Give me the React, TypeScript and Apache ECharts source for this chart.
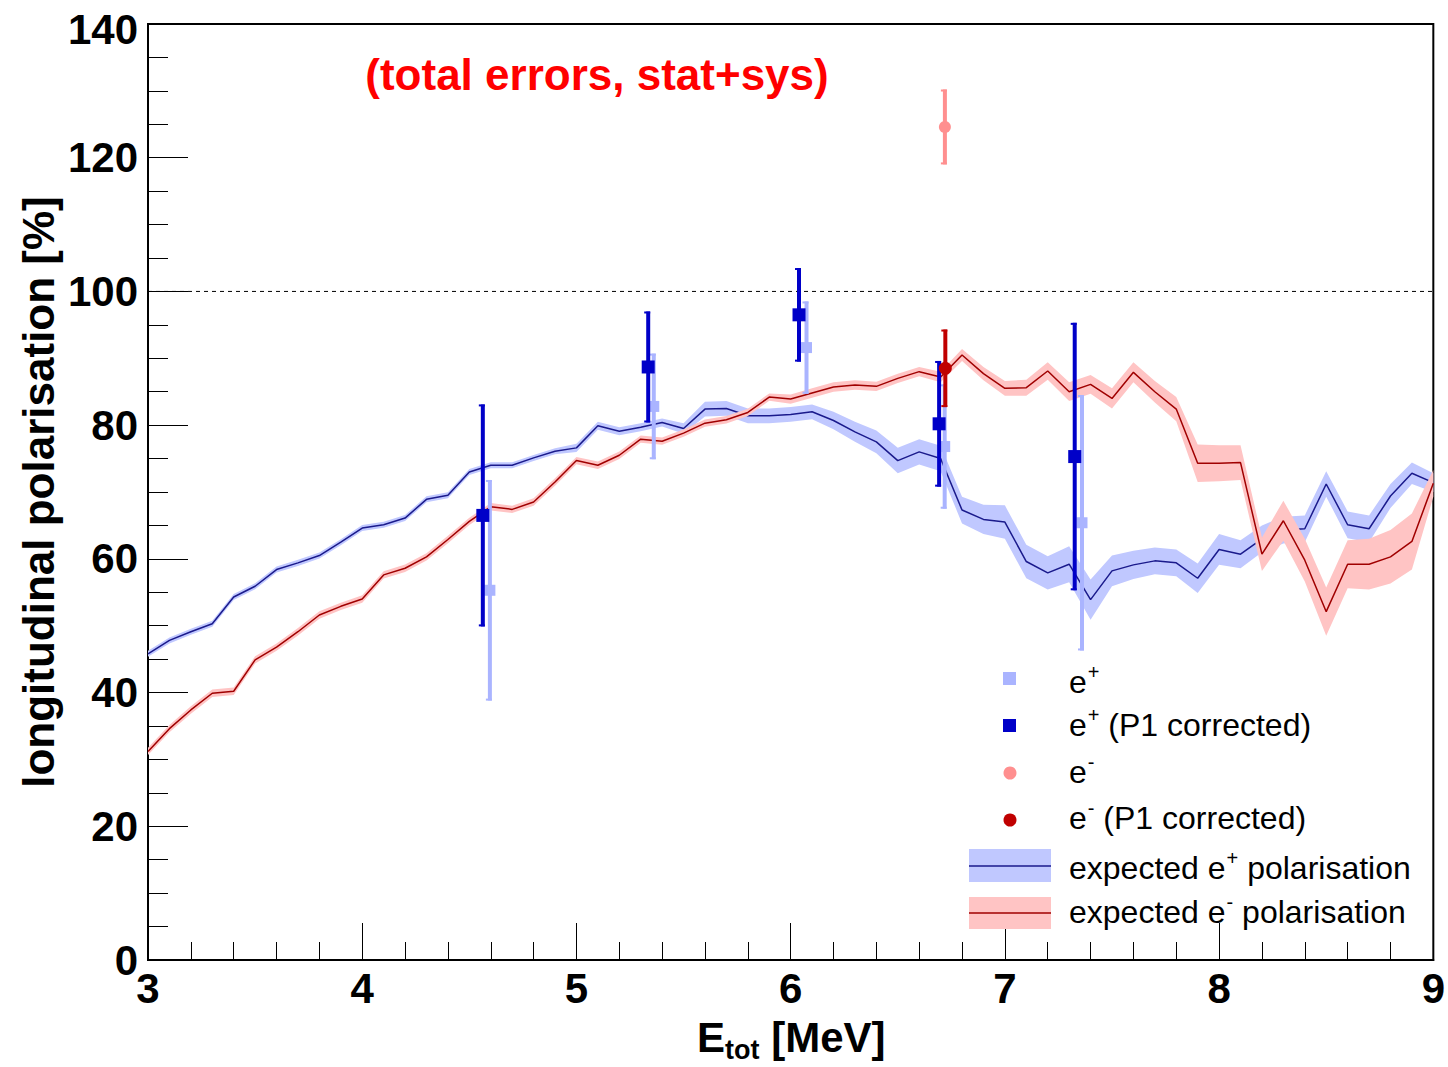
import React, { useEffect, useRef } from "react";
import * as echarts from "echarts";

// ---------- data ----------
const energies = [
  3.0, 3.1, 3.2, 3.3, 3.4, 3.5, 3.6, 3.7, 3.8, 3.9,
  4.0, 4.1, 4.2, 4.3, 4.4, 4.5, 4.6, 4.7, 4.8, 4.9,
  5.0, 5.1, 5.2, 5.3, 5.4, 5.5, 5.6, 5.7, 5.8, 5.9,
  6.0, 6.1, 6.2, 6.3, 6.4, 6.5, 6.6, 6.7, 6.8, 6.9,
  7.0, 7.1, 7.2, 7.3, 7.4, 7.5, 7.6, 7.7, 7.8, 7.9,
  8.0, 8.1, 8.2, 8.3, 8.4, 8.5, 8.6, 8.7, 8.8, 8.9, 9.0,
];

const expectedPos = [
  45.8, 47.8, 49.1, 50.3, 54.3, 55.9, 58.4, 59.4, 60.5, 62.5,
  64.6, 65.1, 66.1, 68.9, 69.5, 73.0, 74.0, 74.0, 75.1, 76.1,
  76.6, 79.9, 79.1, 79.7, 80.4, 79.5, 82.4, 82.5, 81.4, 81.4,
  81.6, 82.0, 80.7, 79.0, 77.5, 74.7, 76.0, 75.0, 67.3, 65.9,
  65.5, 59.6, 57.9, 59.2, 53.9, 58.2, 59.1, 59.7, 59.4, 57.1,
  61.4, 60.7, 63.0, 64.3, 64.5, 71.2, 65.1, 64.5, 69.4, 72.8, 71.4,
];
const expectedPosErr = [
  0.45, 0.45, 0.45, 0.45, 0.45, 0.45, 0.45, 0.45, 0.45, 0.45,
  0.45, 0.45, 0.45, 0.45, 0.45, 0.45, 0.45, 0.45, 0.45, 0.45,
  0.6, 0.6, 0.6, 0.6, 0.6, 0.8, 1.1, 1.1, 1.1, 1.1,
  1.1, 1.1, 1.3, 1.5, 1.7, 1.9, 1.9, 1.9, 2.0, 2.2,
  2.5, 2.5, 2.5, 2.7, 3.0, 2.3, 2.1, 2.0, 2.0, 2.2,
  2.3, 2.1, 2.0, 2.0, 2.0, 1.9, 2.0, 2.0, 1.8, 1.6, 1.4,
];

const expectedNeg = [
  31.2, 34.6, 37.4, 39.9, 40.2, 44.9, 46.8, 49.1, 51.6, 52.9,
  54.0, 57.6, 58.6, 60.3, 62.9, 65.6, 67.8, 67.4, 68.5, 71.5,
  74.7, 74.0, 75.5, 77.9, 77.6, 78.8, 80.3, 80.8, 81.9, 84.2,
  83.9, 84.8, 85.7, 86.0, 85.8, 87.0, 88.0, 87.2, 90.5, 87.7,
  85.5, 85.6, 88.1, 85.0, 86.1, 84.0, 87.9, 85.0, 82.4, 74.3,
  74.3, 74.4, 60.7, 65.7, 59.8, 52.1, 59.2, 59.2, 60.3, 62.6, 71.3,
];
const expectedNegErr = [
  0.55, 0.55, 0.55, 0.55, 0.55, 0.55, 0.55, 0.55, 0.55, 0.55,
  0.55, 0.55, 0.55, 0.55, 0.55, 0.55, 0.55, 0.55, 0.55, 0.55,
  0.55, 0.55, 0.55, 0.55, 0.55, 0.55, 0.55, 0.55, 0.55, 0.55,
  0.7, 0.7, 0.7, 0.7, 0.7, 0.7, 0.7, 0.8, 0.9, 1.0,
  1.1, 1.2, 1.3, 1.4, 1.4, 1.5, 1.5, 1.6, 1.8, 2.8,
  2.7, 2.6, 2.5, 3.0, 3.2, 3.6, 3.6, 3.8, 4.0, 4.2, 2.0,
];

const ePosE = [4.596, 5.361, 6.074, 6.719, 7.36];
const ePosVal = [55.3, 82.8, 91.6, 76.8, 65.4];
const ePosErr = [16.5, 7.9, 6.9, 9.3, 19.1];

const ePosCorrE = [4.563, 5.335, 6.039, 6.693, 7.326];
const ePosCorrVal = [66.5, 88.7, 96.5, 80.2, 75.3];
const ePosCorrErr = [16.6, 8.3, 7.0, 9.4, 20.0];

const eNegE = [6.72];
const eNegVal = [124.6];
const eNegErr = [5.6];

const eNegCorrE = [6.722];
const eNegCorrVal = [88.5];
const eNegCorrErr = [5.8];

const referenceX = [3, 9];
const referenceY = [100, 100];

const xRange = { min: 3, max: 9, interval: 1 };
const yRange = { min: 0, max: 140, interval: 20 };

const titleText = "(total errors, stat+sys)";
const yTitle = "longitudinal polarisation [%]";

// ---------- styling ----------
const FF = "'Liberation Sans', Arial, Helvetica, sans-serif";
const C = {
  bandPos: "#c0c8ff",
  linePos: "#1a1a8c",
  bandNeg: "#ffc4c4",
  lineNeg: "#a00000",
  ePos: "#aab4ff",
  ePosCorr: "#0000c8",
  eNeg: "#ff8f8f",
  eNegCorr: "#c00000",
};

function bandSeries(vals: number[], errs: number[], fill: string, z: number) {
  return {
    type: "custom",
    silent: true,
    z,
    clip: true,
    data: energies.map((e, i) => [e, vals[i] - errs[i], vals[i] + errs[i]]),
    encode: { x: 0, y: [1, 2] },
    renderItem: (params: any, api: any) => {
      if (params.dataIndex !== 0) return { type: "group", children: [] };
      const upper = energies.map((e, i) => api.coord([e, vals[i] + errs[i]]));
      const lower = energies.map((e, i) => api.coord([e, vals[i] - errs[i]])).reverse();
      return {
        type: "polygon",
        shape: { points: upper.concat(lower) },
        style: { fill, stroke: "none" },
      };
    },
  };
}

function errorSeries(xs: number[], ys: number[], es: number[], color: string, z: number) {
  return {
    type: "custom",
    silent: true,
    z,
    data: xs.map((x, i) => [x, ys[i] - es[i], ys[i] + es[i]]),
    encode: { x: 0, y: [1, 2] },
    renderItem: (params: any, api: any) => {
      const x = api.value(0);
      const top = api.coord([x, api.value(2)]);
      const bot = api.coord([x, api.value(1)]);
      return {
        type: "group",
        children: [
          { type: "line", shape: { x1: top[0], y1: top[1], x2: bot[0], y2: bot[1] }, style: { stroke: color, lineWidth: 4 } },
          { type: "line", shape: { x1: top[0] - 4, y1: top[1] + 1, x2: top[0] + 2, y2: top[1] + 1 }, style: { stroke: color, lineWidth: 2 } },
          { type: "line", shape: { x1: bot[0] - 4, y1: bot[1] - 1, x2: bot[0] + 2, y2: bot[1] - 1 }, style: { stroke: color, lineWidth: 2 } },
        ],
      };
    },
  };
}

function pointSeries(xs: number[], ys: number[], symbol: string, size: number, color: string, z: number) {
  return {
    type: "scatter",
    silent: true,
    z,
    symbol,
    symbolSize: size,
    itemStyle: { color, opacity: 1 },
    data: xs.map((x, i) => [x, ys[i]]),
  };
}

function lineSeries(ys: number[], color: string, z: number) {
  return {
    type: "line",
    silent: true,
    z,
    symbol: "none",
    showSymbol: false,
    lineStyle: { color, width: 1.5 },
    data: energies.map((e, i) => [e, ys[i]]),
  };
}

export default function App() {
  const ref = useRef<HTMLDivElement>(null);

  useEffect(() => {
    document.body.style.margin = "0";
    const chart = echarts.init(ref.current!, undefined, { renderer: "svg" });

    const ctx = document.createElement("canvas").getContext("2d")!;
    const measure = (t: string, size: number, bold: boolean) => {
      ctx.font = `${bold ? "bold " : ""}${size}px ${FF}`;
      return ctx.measureText(t).width;
    };
    // text placed by baseline (middle alignment ~ 0.35em above baseline)
    const txt = (t: string, x: number, base: number, size: number, bold: boolean, color = "#000", align = "left") => ({
      type: "text",
      x,
      y: base - 0.35 * size,
      z: 100,
      silent: true,
      style: { text: t, fontSize: size, fontWeight: bold ? "bold" : "normal", fontFamily: FF, fill: color, align, verticalAlign: "middle" },
    });

    const legendFont = 32;
    const supFont = 20;
    const legendX = 1069;
    const legendRow = (pre: string, sup: string, post: string, base: number) => {
      const els: any[] = [];
      els.push(txt(pre, legendX, base, legendFont, false));
      const sx = legendX + measure(pre, legendFont, false) + 1;
      els.push({
        type: "text",
        x: sx,
        y: base - 21,
        z: 100,
        silent: true,
        style: { text: sup, fontSize: supFont, fontFamily: FF, fill: "#000", align: "left", verticalAlign: "middle" },
      });
      if (post) {
        const px = sx + measure(sup, supFont, false);
        els.push(txt(post, px, base, legendFont, false));
      }
      return els;
    };

    const eW = measure("E", 42, true);
    const totW = measure("tot", 27, true);

    const graphic: any[] = [
      txt(titleText, 597, 90, 44, true, "#ff0000", "center"),
      // x title
      txt("E", 697, 1052, 42, true),
      txt("tot", 697 + eW, 1059, 27, true),
      txt(" [MeV]", 697 + eW + totW, 1052, 42, true),
      // y title
      {
        type: "text",
        x: 38,
        y: 492,
        rotation: Math.PI / 2,
        z: 100,
        silent: true,
        style: { text: yTitle, fontSize: 44, fontWeight: "bold", fontFamily: FF, fill: "#000", align: "center", verticalAlign: "middle" },
      },
      // legend markers
      { type: "rect", z: 100, silent: true, shape: { x: 1003, y: 672, width: 13, height: 13 }, style: { fill: C.ePos } },
      { type: "rect", z: 100, silent: true, shape: { x: 1003, y: 719, width: 13, height: 13 }, style: { fill: C.ePosCorr } },
      { type: "circle", z: 100, silent: true, shape: { cx: 1010, cy: 773, r: 6.5 }, style: { fill: C.eNeg } },
      { type: "circle", z: 100, silent: true, shape: { cx: 1010, cy: 820, r: 6.5 }, style: { fill: C.eNegCorr } },
      { type: "rect", z: 100, silent: true, shape: { x: 969, y: 849, width: 82, height: 33 }, style: { fill: C.bandPos } },
      { type: "line", z: 101, silent: true, shape: { x1: 969, y1: 866, x2: 1051, y2: 866 }, style: { stroke: C.linePos, lineWidth: 1.5 } },
      { type: "rect", z: 100, silent: true, shape: { x: 969, y: 897, width: 82, height: 32 }, style: { fill: C.bandNeg } },
      { type: "line", z: 101, silent: true, shape: { x1: 969, y1: 913, x2: 1051, y2: 913 }, style: { stroke: C.lineNeg, lineWidth: 1.5 } },
      ...legendRow("e", "+", "", 693),
      ...legendRow("e", "+", " (P1 corrected)", 736),
      ...legendRow("e", "-", "", 783),
      ...legendRow("e", "-", " (P1 corrected)", 829),
      ...legendRow("expected e", "+", " polarisation", 879),
      ...legendRow("expected e", "-", " polarisation", 923),
    ];

    const labelStyle = { color: "#000", fontSize: 42, fontWeight: "bold", fontFamily: FF };
    const axisCommon = {
      type: "value",
      axisLine: { show: true, onZero: false, lineStyle: { color: "#000", width: 2 } },
      splitLine: { show: false },
      minorSplitLine: { show: false },
    };

    chart.setOption({
      animation: false,
      backgroundColor: "#fff",
      grid: { left: 148, top: 24, width: 1286, height: 936, show: true, borderColor: "#000", borderWidth: 2, backgroundColor: "transparent", containLabel: false },
      xAxis: {
        ...axisCommon,
        min: xRange.min,
        max: xRange.max,
        interval: xRange.interval,
        axisTick: { show: true, inside: true, length: 37, lineStyle: { color: "#000", width: 1 } },
        minorTick: { show: true, splitNumber: 5, length: 18, lineStyle: { color: "#000", width: 1 } },
        axisLabel: { ...labelStyle, margin: 7, showMinLabel: true, showMaxLabel: true },
      },
      yAxis: {
        ...axisCommon,
        min: yRange.min,
        max: yRange.max,
        interval: yRange.interval,
        axisTick: { show: true, inside: true, length: 40, lineStyle: { color: "#000", width: 1 } },
        minorTick: { show: true, splitNumber: 4, length: 20, lineStyle: { color: "#000", width: 1 } },
        axisLabel: {
          ...labelStyle,
          margin: 10,
          showMinLabel: true,
          showMaxLabel: true,
          formatter: (v: number) => (v === yRange.max ? `{top|${v}}` : `${v}`),
          rich: { top: { ...labelStyle, padding: [10, 0, 0, 0] } },
        },
      },
      graphic,
      series: [
        {
          type: "line",
          silent: true,
          z: 2,
          symbol: "none",
          lineStyle: { color: "#000", width: 1, type: [4, 4] },
          data: referenceX.map((x, i) => [x, referenceY[i]]),
        },
        bandSeries(expectedPos, expectedPosErr, C.bandPos, 3),
        lineSeries(expectedPos, C.linePos, 4),
        bandSeries(expectedNeg, expectedNegErr, C.bandNeg, 5),
        lineSeries(expectedNeg, C.lineNeg, 6),
        errorSeries(ePosE, ePosVal, ePosErr, C.ePos, 7),
        pointSeries(ePosE, ePosVal, "rect", 11, C.ePos, 8),
        errorSeries(ePosCorrE, ePosCorrVal, ePosCorrErr, C.ePosCorr, 9),
        pointSeries(ePosCorrE, ePosCorrVal, "rect", 13, C.ePosCorr, 10),
        errorSeries(eNegE, eNegVal, eNegErr, C.eNeg, 11),
        pointSeries(eNegE, eNegVal, "circle", 12, C.eNeg, 12),
        errorSeries(eNegCorrE, eNegCorrVal, eNegCorrErr, C.eNegCorr, 13),
        pointSeries(eNegCorrE, eNegCorrVal, "circle", 13, C.eNegCorr, 14),
      ],
    });

    return () => chart.dispose();
  }, []);

  return <div ref={ref} style={{ position: "absolute", left: 0, top: 0, width: 1448, height: 1067 }} />;
}
